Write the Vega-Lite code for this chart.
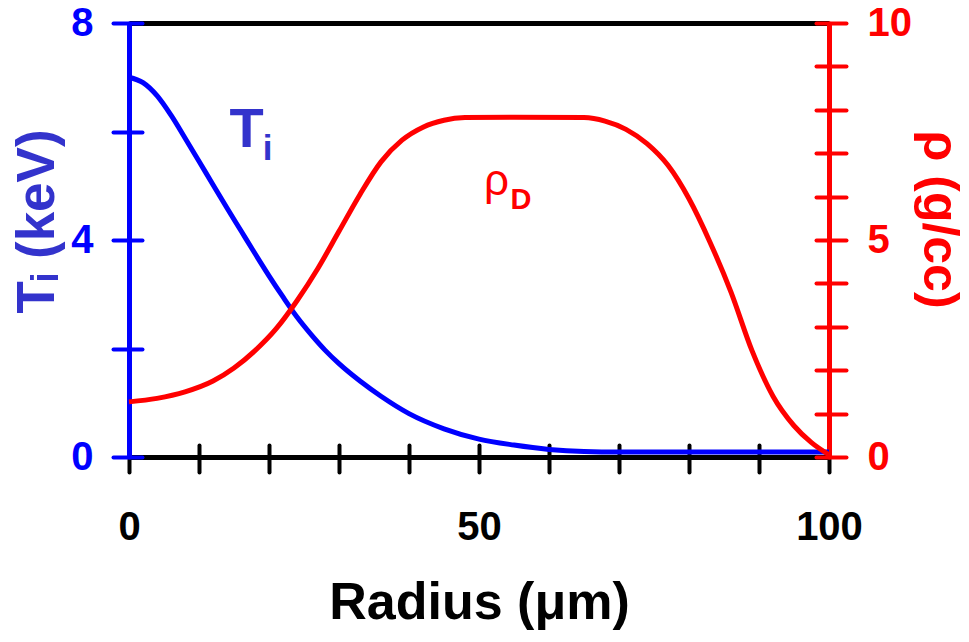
{
  "$schema": "https://vega.github.io/schema/vega-lite/v6.json",
  "width": 700,
  "height": 434,
  "autosize": "none",
  "padding": {"left": 129, "top": 23, "right": 140, "bottom": 185},
  "background": "white",
  "config": {"view": {"stroke": null}, "font": "Liberation Sans", "axis": {"grid": false}},
  "datasets": {
    "ti": [
      {"r": 0, "T": 7.0}, {"r": 2, "T": 6.9}, {"r": 4, "T": 6.66}, {"r": 6, "T": 6.3},
      {"r": 8, "T": 5.88}, {"r": 10, "T": 5.45}, {"r": 12, "T": 5.02}, {"r": 14, "T": 4.59},
      {"r": 16, "T": 4.17}, {"r": 18, "T": 3.75}, {"r": 20, "T": 3.34}, {"r": 22, "T": 2.95},
      {"r": 24, "T": 2.58}, {"r": 26, "T": 2.26}, {"r": 28, "T": 1.97}, {"r": 30, "T": 1.72},
      {"r": 33, "T": 1.4}, {"r": 36, "T": 1.12}, {"r": 40, "T": 0.8}, {"r": 45, "T": 0.52},
      {"r": 50, "T": 0.33}, {"r": 55, "T": 0.22}, {"r": 60, "T": 0.14}, {"r": 65, "T": 0.1},
      {"r": 70, "T": 0.09}, {"r": 100, "T": 0.09}
    ],
    "rho": [
      {"r": 0, "rho": 1.27}, {"r": 4, "rho": 1.35}, {"r": 8, "rho": 1.5}, {"r": 12, "rho": 1.75},
      {"r": 15, "rho": 2.05}, {"r": 18, "rho": 2.45}, {"r": 21, "rho": 2.95}, {"r": 24, "rho": 3.6},
      {"r": 27, "rho": 4.35}, {"r": 30, "rho": 5.2}, {"r": 33, "rho": 6.05}, {"r": 36, "rho": 6.8},
      {"r": 39, "rho": 7.3}, {"r": 42, "rho": 7.6}, {"r": 45, "rho": 7.76}, {"r": 48, "rho": 7.82},
      {"r": 55, "rho": 7.83}, {"r": 65, "rho": 7.82}, {"r": 68, "rho": 7.74}, {"r": 71, "rho": 7.55},
      {"r": 74, "rho": 7.22}, {"r": 77, "rho": 6.72}, {"r": 80, "rho": 5.95}, {"r": 83, "rho": 4.95},
      {"r": 86, "rho": 3.8}, {"r": 89, "rho": 2.45}, {"r": 92, "rho": 1.4}, {"r": 95, "rho": 0.72},
      {"r": 97.5, "rho": 0.33}, {"r": 100, "rho": 0.05}
    ],
    "lblT": [{"r": 16.8, "T": 5.71, "text": "T"}],
    "lblTi": [{"r": 19.8, "T": 5.47, "text": "i"}],
    "lblRho": [{"r": 52.5, "rho": 6.03, "text": "ρ"}],
    "lblD": [{"r": 56.0, "rho": 5.72, "text": "D"}]
  },
  "layer": [
    {
      "data": {"name": "ti"},
      "mark": {"type": "line", "color": "#0000ff", "strokeWidth": 5, "interpolate": "monotone"},
      "encoding": {
        "x": {"field": "r", "type": "quantitative", "scale": {"domain": [0, 100], "nice": false},
          "axis": {"orient": "bottom", "values": [0,10,20,30,40,50,60,70,80,90,100],
            "labelExpr": "datum.value % 50 == 0 ? datum.label : ''",
            "labelFlush": false, "labelOverlap": false,
            "domainColor": "black", "domainWidth": 5,
            "tickColor": "black", "tickWidth": 4, "tickSize": 15, "tickCap": "round",
            "labelFont": "Liberation Sans", "labelFontWeight": "bold", "labelFontSize": 40, "labelColor": "black",
            "labelPadding": 35,
            "title": "Radius (μm)", "titleFont": "Liberation Sans", "titleFontWeight": "bold", "titleFontSize": 52,
            "titleColor": "black", "titlePadding": 30}},
        "y": {"field": "T", "type": "quantitative", "scale": {"domain": [0, 8], "nice": false},
          "axis": {"orient": "left", "values": [0,2,4,6,8],
            "labelExpr": "datum.value % 4 == 0 ? datum.label : ''",
            "labelOverlap": false, "labelFlush": false,
            "domainColor": "#0000ff", "domainWidth": 5,
            "tickColor": "#0000ff", "tickWidth": 4, "tickSize": 16, "tickCap": "round",
            "labelFont": "Liberation Sans", "labelFontWeight": "bold", "labelFontSize": 40, "labelColor": "#0000ff",
            "labelPadding": 20,
            "title": "Tᵢ (keV)", "titleFont": "Liberation Sans", "titleFontWeight": "bold", "titleFontSize": 53,
            "titleColor": "#3333cc", "titlePadding": 6, "titleY": 198}}
      }
    },
    {
      "data": {"name": "rho"},
      "mark": {"type": "line", "color": "#ff0000", "strokeWidth": 5, "interpolate": "monotone"},
      "encoding": {
        "x": {"field": "r", "type": "quantitative", "scale": {"domain": [0, 100], "nice": false},
          "axis": {"orient": "top", "domainColor": "black", "domainWidth": 5, "ticks": false, "labels": false, "title": null}},
        "y": {"field": "rho", "type": "quantitative", "scale": {"domain": [0, 10], "nice": false},
          "axis": {"orient": "right", "values": [0,1,2,3,4,5,6,7,8,9,10],
            "labelExpr": "datum.value % 5 == 0 ? datum.label : ''",
            "labelOverlap": false, "labelFlush": false,
            "domainColor": "#ff0000", "domainWidth": 5,
            "tickColor": "#ff0000", "tickWidth": 4, "tickSize": 17, "tickCap": "round",
            "labelFont": "Liberation Sans", "labelFontWeight": "bold", "labelFontSize": 40, "labelColor": "#ff0000",
            "labelPadding": 21,
            "title": "ρ (g/cc)", "titleFont": "Liberation Sans", "titleFontWeight": "bold", "titleFontSize": 50,
            "titleColor": "#ff0000", "titlePadding": 2, "titleY": 196}}
      }
    },
    {
      "data": {"name": "ti"},
      "mark": {"type": "line", "strokeOpacity": 0},
      "encoding": {
        "x": {"field": "r", "type": "quantitative", "scale": {"domain": [0, 100], "nice": false},
          "axis": {"orient": "bottom", "values": [0,10,20,30,40,50,60,70,80,90,100],
            "domain": false, "labels": false, "title": null,
            "tickColor": "black", "tickWidth": 4, "tickSize": -12, "tickCap": "round"}},
        "y": {"field": "T", "type": "quantitative", "scale": {"domain": [0, 8], "nice": false},
          "axis": {"orient": "left", "values": [0,2,4,6,8],
            "domain": false, "labels": false, "title": null,
            "tickColor": "#0000ff", "tickWidth": 4, "tickSize": -13, "tickCap": "round"}}
      }
    },
    {
      "data": {"name": "rho"},
      "mark": {"type": "line", "strokeOpacity": 0},
      "encoding": {
        "x": {"field": "r", "type": "quantitative", "scale": {"domain": [0, 100], "nice": false}, "axis": null},
        "y": {"field": "rho", "type": "quantitative", "scale": {"domain": [0, 10], "nice": false},
          "axis": {"orient": "right", "values": [0,1,2,3,4,5,6,7,8,9,10],
            "domain": false, "labels": false, "title": null,
            "tickColor": "#ff0000", "tickWidth": 4, "tickSize": -13, "tickCap": "round"}}
      }
    },
    {
      "data": {"name": "lblT"},
      "mark": {"type": "text", "font": "Liberation Sans", "fontWeight": "bold", "fontSize": 56, "color": "#3333cc", "baseline": "alphabetic", "align": "center"},
      "encoding": {
        "x": {"field": "r", "type": "quantitative", "scale": {"domain": [0, 100], "nice": false}, "axis": null},
        "y": {"field": "T", "type": "quantitative", "scale": {"domain": [0, 8], "nice": false}, "axis": null},
        "text": {"field": "text"}
      }
    },
    {
      "data": {"name": "lblTi"},
      "mark": {"type": "text", "font": "Liberation Sans", "fontWeight": "bold", "fontSize": 35, "color": "#3333cc", "baseline": "alphabetic", "align": "center"},
      "encoding": {
        "x": {"field": "r", "type": "quantitative", "scale": {"domain": [0, 100], "nice": false}, "axis": null},
        "y": {"field": "T", "type": "quantitative", "scale": {"domain": [0, 8], "nice": false}, "axis": null},
        "text": {"field": "text"}
      }
    },
    {
      "data": {"name": "lblRho"},
      "mark": {"type": "text", "font": "Liberation Sans", "fontWeight": "normal", "fontSize": 44, "color": "#ff0000", "baseline": "alphabetic", "align": "center"},
      "encoding": {
        "x": {"field": "r", "type": "quantitative", "scale": {"domain": [0, 100], "nice": false}, "axis": null},
        "y": {"field": "rho", "type": "quantitative", "scale": {"domain": [0, 10], "nice": false}, "axis": null},
        "text": {"field": "text"}
      }
    },
    {
      "data": {"name": "lblD"},
      "mark": {"type": "text", "font": "Liberation Sans", "fontWeight": "bold", "fontSize": 29, "color": "#ff0000", "baseline": "alphabetic", "align": "center"},
      "encoding": {
        "x": {"field": "r", "type": "quantitative", "scale": {"domain": [0, 100], "nice": false}, "axis": null},
        "y": {"field": "rho", "type": "quantitative", "scale": {"domain": [0, 10], "nice": false}, "axis": null},
        "text": {"field": "text"}
      }
    }
  ],
  "resolve": {"scale": {"y": "independent"}, "axis": {"x": "independent", "y": "independent"}}
}
